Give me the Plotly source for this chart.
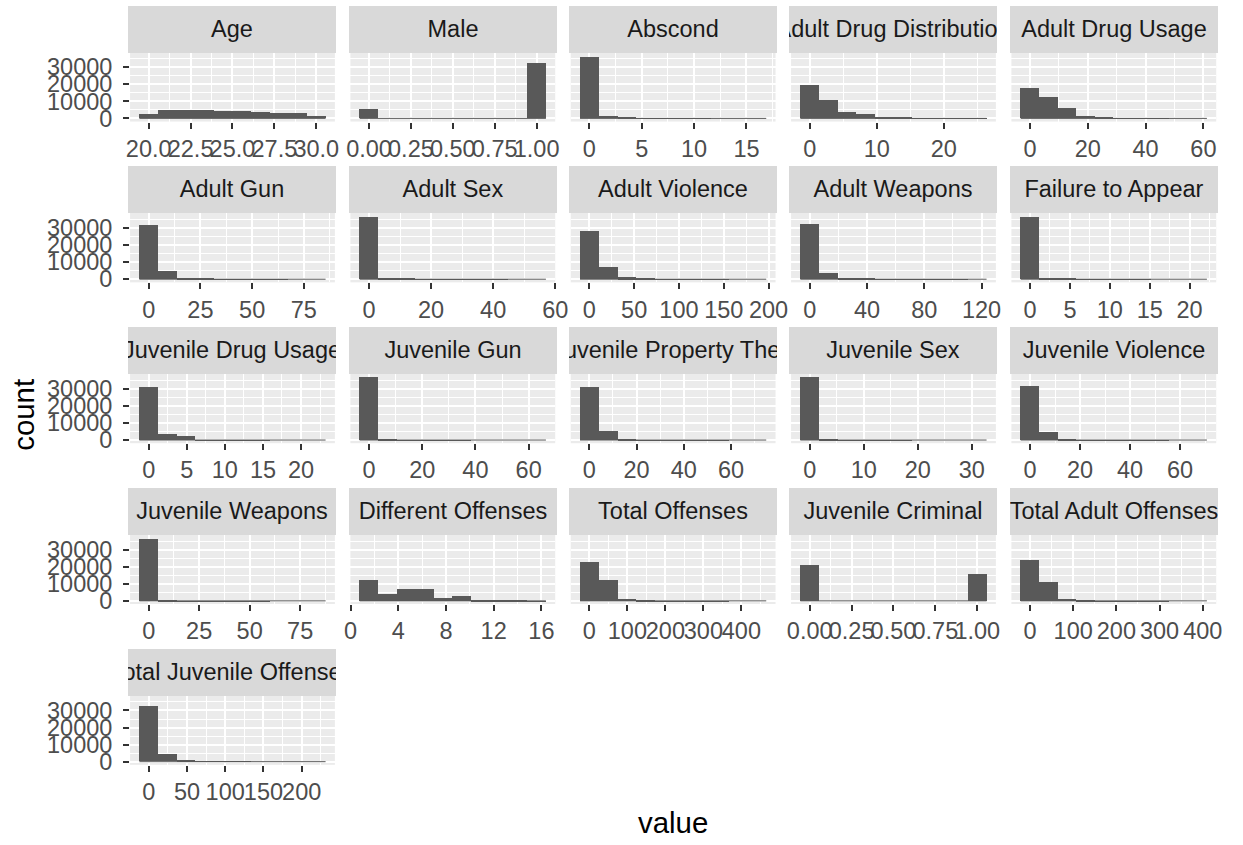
import plotly.graph_objects as go

# ---------------- data ----------------
variables = [
    "Age", "Male", "Abscond", "Adult Drug Distribution", "Adult Drug Usage",
    "Adult Gun", "Adult Sex", "Adult Violence", "Adult Weapons", "Failure to Appear",
    "Juvenile Drug Usage", "Juvenile Gun", "Juvenile Property Theft", "Juvenile Sex", "Juvenile Violence",
    "Juvenile Weapons", "Different Offenses", "Total Offenses", "Juvenile Criminal", "Total Adult Offenses",
    "Total Juvenile Offenses",
]
# data minimum / maximum of each variable (10 bins, first/last bin centred on them)
value_min = [20, 0, 0, 0, 0, 0, 0, 0, 0, 0, 0, 0, 0, 0, 0, 0, 1.55, 0, 0, 0, 0]
value_max = [30, 1, 16, 25, 58, 81, 54, 187, 117, 21, 22, 63, 71, 31, 67, 83, 15.6, 441, 1, 388, 219]

counts_age = [2500, 4900, 5000, 4900, 4300, 4200, 3700, 3100, 3000, 1300]
counts_male = [5300, 0, 0, 0, 0, 0, 0, 0, 0, 32300]
counts_abscond = [36000, 1300, 200, 60, 20, 10, 5, 3, 1, 1]
counts_adult_drug_dist = [19500, 10800, 3800, 2400, 700, 200, 80, 30, 10, 5]
counts_adult_drug_usage = [17500, 12400, 5900, 1400, 250, 60, 20, 8, 3, 1]
counts_adult_gun = [31900, 4600, 700, 200, 80, 30, 10, 5, 2, 1]
counts_adult_sex = [36400, 700, 300, 100, 40, 20, 10, 5, 2, 1]
counts_adult_violence = [28600, 7300, 1100, 300, 100, 40, 15, 5, 3, 1]
counts_adult_weapons = [32500, 3900, 700, 250, 100, 50, 25, 10, 5, 2]
counts_fta = [36400, 1000, 200, 60, 20, 10, 5, 2, 1, 1]
counts_juv_drug_usage = [31300, 3700, 2400, 120, 30, 10, 5, 2, 1, 1]
counts_juv_gun = [36900, 700, 80, 20, 8, 4, 2, 1, 1, 1]
counts_juv_property = [31000, 5700, 800, 150, 50, 20, 10, 5, 2, 1]
counts_juv_sex = [37000, 500, 80, 20, 8, 4, 2, 1, 1, 1]
counts_juv_violence = [32100, 4700, 700, 150, 50, 20, 10, 5, 2, 1]
counts_juv_weapons = [36400, 900, 150, 40, 15, 8, 4, 2, 1, 1]
counts_diff_offenses = [12200, 4000, 7000, 7000, 1800, 2900, 700, 600, 200, 80]
counts_total_offenses = [22900, 12700, 1400, 300, 100, 40, 15, 5, 2, 1]
counts_juv_criminal = [21300, 0, 0, 0, 0, 0, 0, 0, 0, 16000]
counts_total_adult = [24000, 11500, 1300, 250, 80, 30, 10, 5, 2, 1]
counts_total_juv = [32700, 4500, 300, 60, 20, 8, 3, 2, 1, 1]

all_counts = [
    counts_age, counts_male, counts_abscond, counts_adult_drug_dist, counts_adult_drug_usage,
    counts_adult_gun, counts_adult_sex, counts_adult_violence, counts_adult_weapons, counts_fta,
    counts_juv_drug_usage, counts_juv_gun, counts_juv_property, counts_juv_sex, counts_juv_violence,
    counts_juv_weapons, counts_diff_offenses, counts_total_offenses, counts_juv_criminal, counts_total_adult,
    counts_total_juv,
]

x_breaks = [
    [20.0, 22.5, 25.0, 27.5, 30.0], [0, 0.25, 0.5, 0.75, 1.0], [0, 5, 10, 15], [0, 10, 20], [0, 20, 40, 60],
    [0, 25, 50, 75], [0, 20, 40, 60], [0, 50, 100, 150, 200], [0, 40, 80, 120], [0, 5, 10, 15, 20],
    [0, 5, 10, 15, 20], [0, 20, 40, 60], [0, 20, 40, 60], [0, 10, 20, 30], [0, 20, 40, 60],
    [0, 25, 50, 75], [0, 4, 8, 12, 16], [0, 100, 200, 300, 400], [0, 0.25, 0.5, 0.75, 1.0], [0, 100, 200, 300, 400],
    [0, 50, 100, 150, 200],
]
x_labels = [
    ["20.0", "22.5", "25.0", "27.5", "30.0"], ["0.00", "0.25", "0.50", "0.75", "1.00"], ["0", "5", "10", "15"],
    ["0", "10", "20"], ["0", "20", "40", "60"],
    ["0", "25", "50", "75"], ["0", "20", "40", "60"], ["0", "50", "100", "150", "200"], ["0", "40", "80", "120"],
    ["0", "5", "10", "15", "20"],
    ["0", "5", "10", "15", "20"], ["0", "20", "40", "60"], ["0", "20", "40", "60"], ["0", "10", "20", "30"],
    ["0", "20", "40", "60"],
    ["0", "25", "50", "75"], ["0", "4", "8", "12", "16"], ["0", "100", "200", "300", "400"],
    ["0.00", "0.25", "0.50", "0.75", "1.00"], ["0", "100", "200", "300", "400"],
    ["0", "50", "100", "150", "200"],
]
y_breaks = [0, 10000, 20000, 30000]
y_labels = ["0", "10000", "20000", "30000"]
n_bins = 10

# ---------------- layout geometry (pixels) ----------------
W, H = 1243, 845
NCOL = 5
panel_w = 208
col_left0, col_pitch = 126, 223.75
strip_top0, row_pitch = 6, 162.75
strip_h, panel_h = 46.7, 70.3

FONT = "Liberation Sans, Arial, Helvetica, sans-serif"
BAR = "#595959"

ymax_all = max(max(c) for c in all_counts)
yrange = [-0.05 * ymax_all, 1.05 * ymax_all]


def minor_vals(br, lo, hi):
    step = br[1] - br[0]
    vals = [br[0] - step / 2] + [(a + b) / 2 for a, b in zip(br[:-1], br[1:])] + [br[-1] + step / 2]
    return [v for v in vals if lo <= v <= hi]


fig = go.Figure()
layout = {}
annotations = []

for i, name in enumerate(variables):
    r, c = divmod(i, NCOL)
    lo, hi = value_min[i], value_max[i]
    w = (hi - lo) / (n_bins - 1)
    centers = [lo + k * w for k in range(n_bins)]
    counts = all_counts[i]
    xr = [lo - w, hi + w]

    sfx = "" if i == 0 else str(i + 1)
    fig.add_trace(go.Bar(x=centers, y=counts, width=w, marker=dict(color=BAR, line=dict(width=0)),
                         xaxis="x" + sfx, yaxis="y" + sfx, showlegend=False, hoverinfo="skip"))
    # baseline of zero-height bins (drawn as a hairline in the original)
    fig.add_trace(go.Scatter(x=[lo - w / 2, hi + w / 2], y=[0, 0], mode="lines",
                             line=dict(color=BAR, width=1), xaxis="x" + sfx, yaxis="y" + sfx,
                             showlegend=False, hoverinfo="skip"))

    left = col_left0 + c * col_pitch
    right = left + panel_w
    s_top = strip_top0 + r * row_pitch
    p_top = s_top + strip_h
    p_bot = p_top + panel_h

    layout["xaxis" + sfx] = dict(
        domain=[left / W, right / W], anchor="y" + sfx, range=xr,
        tickmode="array", tickvals=x_breaks[i], ticktext=x_labels[i], tickangle=0,
        ticks="outside", ticklen=6, tickwidth=2, tickcolor="#333333",
        tickfont=dict(family=FONT, size=23.5, color="#4D4D4D"), ticklabelstandoff=0,
        showgrid=True, gridcolor="white", gridwidth=2, zeroline=False, showline=False,
        minor=dict(tickmode="array", tickvals=minor_vals(x_breaks[i], xr[0], xr[1]),
                   showgrid=True, gridcolor="white", gridwidth=1, ticks=""),
        fixedrange=True,
    )
    ydict = dict(
        domain=[1 - p_bot / H, 1 - p_top / H], anchor="x" + sfx, range=yrange,
        tickmode="array", tickvals=y_breaks, ticktext=y_labels,
        showgrid=True, gridcolor="white", gridwidth=2, zeroline=False, showline=False,
        minor=dict(tickmode="array", tickvals=[5000, 15000, 25000, 35000],
                   showgrid=True, gridcolor="white", gridwidth=1, ticks=""),
        fixedrange=True,
    )
    if c == 0:
        ydict.update(ticks="outside", ticklen=6, tickwidth=2, tickcolor="#333333",
                     tickfont=dict(family=FONT, size=23.5, color="#4D4D4D"), ticklabelstandoff=6,
                     showticklabels=True)
    else:
        ydict.update(ticks="", showticklabels=False)
    layout["yaxis" + sfx] = ydict

    annotations.append(dict(
        text=name, xref="paper", yref="paper",
        x=(left + right) / 2 / W, y=1 - (s_top + strip_h / 2) / H,
        xanchor="center", yanchor="middle", showarrow=False,
        width=panel_w, height=strip_h, bgcolor="#D9D9D9", borderpad=0, borderwidth=0,
        align="center", valign="middle",
        font=dict(family=FONT, size=23.5, color="#1A1A1A"),
    ))

annotations.append(dict(text="count", xref="paper", yref="paper", x=17 / W, y=1 - 420 / H,
                        xanchor="center", yanchor="middle", showarrow=False, textangle=-90,
                        font=dict(family=FONT, size=29.4, color="black")))
annotations.append(dict(text="value", xref="paper", yref="paper",
                        x=(col_left0 + (NCOL - 1) * col_pitch + panel_w + col_left0) / 2 / W,
                        y=1 - 832 / H, xanchor="center", yanchor="middle", showarrow=False,
                        font=dict(family=FONT, size=29.4, color="black")))

fig.update_layout(
    width=W, height=H, margin=dict(l=0, r=0, t=0, b=0),
    paper_bgcolor="white", plot_bgcolor="#EBEBEB",
    annotations=annotations, bargap=0, **layout,
)

fig.write_html("out.html", config={"displayModeBar": False},
               post_script="document.body.style.margin='0px';")
